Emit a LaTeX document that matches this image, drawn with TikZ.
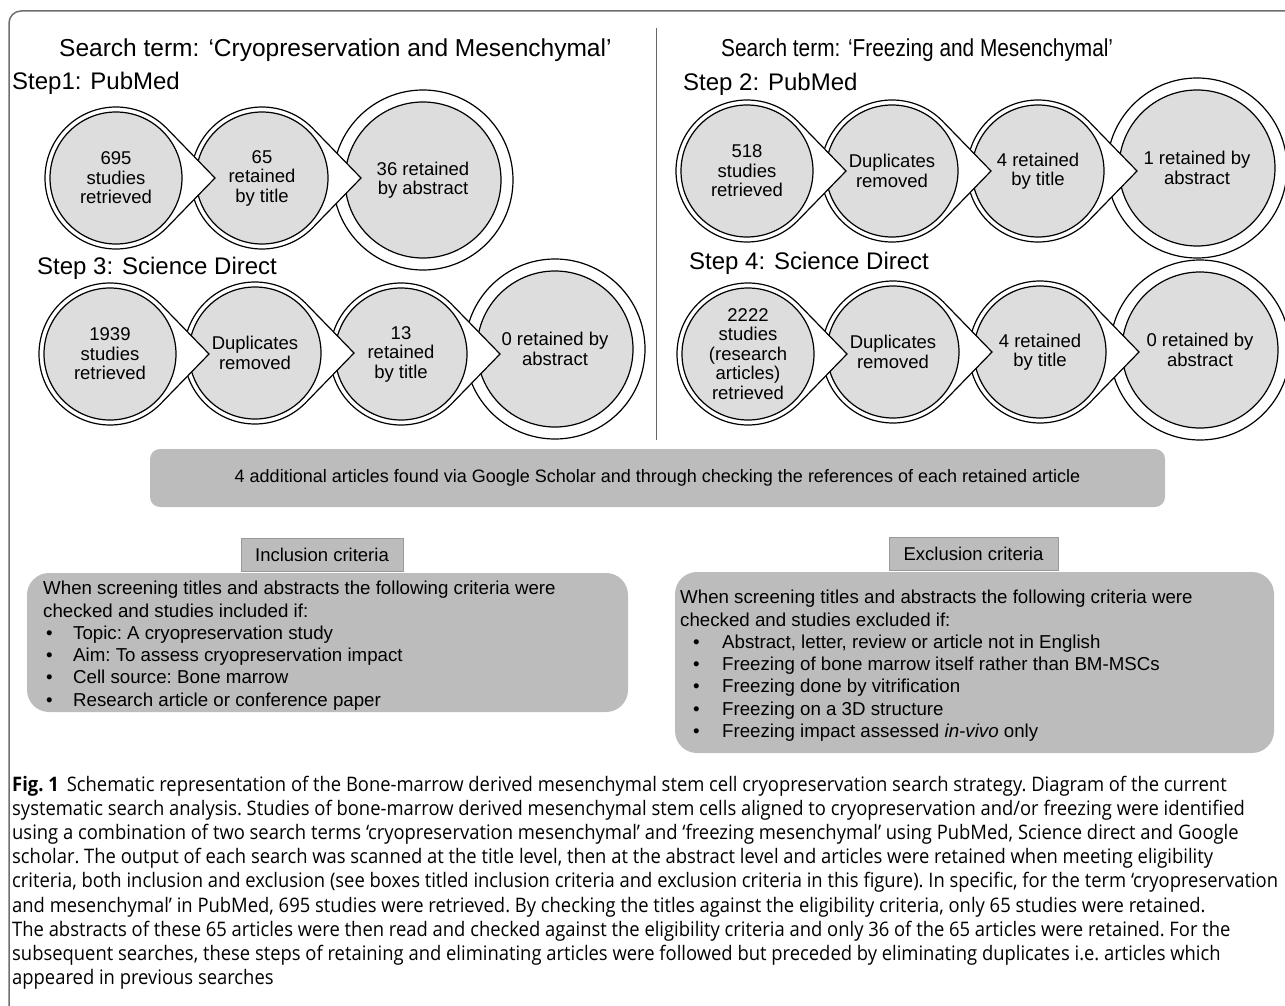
\documentclass[tikz,border=0pt]{standalone}
\usepackage{fontspec}
\setmainfont{Liberation Sans}
\newfontfamily\capfont[FakeStretch=0.92]{Open Sans}
\newfontfamily\narrowfont[FakeStretch=0.85]{Liberation Sans}
\usetikzlibrary{calc}
\definecolor{coregray}{HTML}{DDDDDD}
\definecolor{bargray}{HTML}{BCBCBC}
\definecolor{framegray}{HTML}{6E6E6E}
\tikzstyle{ring}=[draw=black, line width=1.2pt, fill=white]
\tikzstyle{core}=[circle, draw=black, line width=1.2pt, fill=coregray, minimum size=132pt, inner sep=0pt, align=center, font=\fontsize{18.5}{19.5}\selectfont]
\tikzstyle{bigcore}=[core, minimum size=156pt]
\tikzstyle{heading}=[anchor=west, inner sep=0pt, font=\fontsize{24.5}{28}\selectfont]
\tikzstyle{steplabel}=[anchor=west, inner sep=0pt, font=\fontsize{24}{28}\selectfont]
\tikzstyle{bar}=[fill=bargray, rounded corners=10pt, inner sep=0pt, font=\fontsize{18}{22}\selectfont\frenchspacing]
\tikzstyle{critbox}=[fill=bargray, rounded corners=22pt, inner sep=0pt]
\tikzstyle{tag}=[fill=bargray, draw=black!40, line width=0.8pt, minimum height=33pt, inner sep=0pt, font=\fontsize{18.5}{22}\selectfont]
\tikzstyle{crit}=[anchor=north west, inner sep=0pt, align=left, font=\fontsize{18.7}{22.3}\selectfont\frenchspacing]
\tikzstyle{divider}=[draw=black!60, line width=0.8pt]
\tikzstyle{frame}=[draw=framegray, line width=1.5pt, rounded corners=12pt]
\tikzstyle{caption}=[anchor=north west, inner sep=0pt, align=left, font=\capfont\fontsize{20}{24.1}\selectfont\frenchspacing]
% bubble with a pointer to the next one, and the closing bubble of a row
\newcommand{\tailbubble}[3]{%
  \draw[ring] ($(#2)+(45:71pt)$) arc[start angle=45, end angle=315, radius=71pt] -- ($(#2)+(99pt,0pt)$) -- cycle;
  \node[core] (#1) at (#2) {#3};}
\newcommand{\lastbubble}[3]{%
  \draw[ring] (#2) circle[radius=90pt];
  \node[bigcore] (#1) at (#2) {#3};}
\newcommand{\incitem}[1]{\hspace*{3pt}\makebox[27pt][l]{\textbullet}#1}
\newcommand{\excitem}[1]{\hspace*{13pt}\makebox[29pt][l]{\textbullet}#1}

\begin{document}
\begin{tikzpicture}[x=1pt, y=-1pt]
	\useasboundingbox (0,0) rectangle (1285,1006);
	
	%The figure frame
	\draw[frame] (9,1012) -- (9,11) -- (1295,11);
	
	%The search terms
	\node[heading] (termL) at (59,50) {Search term: ‘Cryopreservation and Mesenchymal’};
	\node[heading, font=\narrowfont\fontsize{24.5}{28}\selectfont] (termR) at (721,50) {Search term: ‘Freezing and Mesenchymal’};
	\draw[divider] (656,28) -- (656,440);
	
	%Step 1
	\node[steplabel] (stepA) at (12,83) {Step1: PubMed};
	\lastbubble{a3}{423,180}{36 retained\\by abstract}
	\tailbubble{a2}{262,178}{65\\retained\\by title}
	\tailbubble{a1}{116,178}{695\\studies\\retrieved}
	
	%Step 3
	\node[steplabel] (stepB) at (37,268) {Step 3: Science Direct};
	\lastbubble{b4}{555,349}{0 retained by\\abstract}
	\tailbubble{b3}{401,354}{13\\retained\\by title}
	\tailbubble{b2}{255,353}{Duplicates\\removed}
	\tailbubble{b1}{110,354}{1939\\studies\\retrieved}
	
	%Step 2
	\node[steplabel] (stepC) at (683,84) {Step 2: PubMed};
	\lastbubble{c4}{1197,168}{1 retained by\\abstract}
	\tailbubble{c3}{1038,171}{4 retained\\by title}
	\tailbubble{c2}{892,171}{Duplicates\\removed}
	\tailbubble{c1}{747,171}{518\\studies\\retrieved}
	
	%Step 4
	\node[steplabel] (stepD) at (689,263) {Step 4: Science Direct};
	\lastbubble{d4}{1200,350}{0 retained by\\abstract}
	\tailbubble{d3}{1040,352}{4 retained\\by title}
	\tailbubble{d2}{893,352}{Duplicates\\removed}
	\tailbubble{d1}{748,354}{2222\\studies\\(research\\articles)\\retrieved}
	
	%The extra articles
	\node[bar, minimum width=1015pt, minimum height=58pt] (extra) at (657.5,478) {4 additional articles found via Google Scholar and through checking the references of each retained article};
	
	%Inclusion criteria
	\node[tag, minimum width=162pt] (inctag) at (322,554.5) {Inclusion criteria};
	\node[critbox, minimum width=601pt, minimum height=139pt] (incbox) at (327.5,642.5) {};
	\node[crit] (inctext) at (43,581) {When screening titles and abstracts the following criteria were\\
		checked and studies included if:\\
		\incitem{Topic: A cryopreservation study}\\
		\incitem{Aim: To assess cryopreservation impact}\\
		\incitem{Cell source: Bone marrow}\\
		\incitem{Research article or conference paper}};
	
	%Exclusion criteria
	\node[tag, minimum width=169pt] (exctag) at (973.5,554) {Exclusion criteria};
	\node[critbox, minimum width=599pt, minimum height=181pt] (excbox) at (974.5,662.5) {};
	\node[crit] (exctext) at (680,590) {When screening titles and abstracts the following criteria were\\
		checked and studies excluded if:\\
		\excitem{Abstract, letter, review or article not in English}\\
		\excitem{Freezing of bone marrow itself rather than BM-MSCs}\\
		\excitem{Freezing done by vitrification}\\
		\excitem{Freezing on a 3D structure}\\
		\excitem{Freezing impact assessed \textit{in-vivo} only}};
	
	%The caption
	\node[caption] (figcap) at (12,776) {\textbf{Fig. 1}\hspace{8pt}Schematic representation of the Bone-marrow derived mesenchymal stem cell cryopreservation search strategy. Diagram of the current\\
		systematic search analysis. Studies of bone-marrow derived mesenchymal stem cells aligned to cryopreservation and/or freezing were identified\\
		using a combination of two search terms ‘cryopreservation mesenchymal’ and ‘freezing mesenchymal’ using PubMed, Science direct and Google\\
		scholar. The output of each search was scanned at the title level, then at the abstract level and articles were retained when meeting eligibility\\
		criteria, both inclusion and exclusion (see boxes titled inclusion criteria and exclusion criteria in this figure). In specific, for the term ‘cryopreservation\\
		and mesenchymal’ in PubMed, 695 studies were retrieved. By checking the titles against the eligibility criteria, only 65 studies were retained.\\
		The abstracts of these 65 articles were then read and checked against the eligibility criteria and only 36 of the 65 articles were retained. For the\\
		subsequent searches, these steps of retaining and eliminating articles were followed but preceded by eliminating duplicates i.e. articles which\\
		appeared in previous searches};
\end{tikzpicture}
\end{document}
